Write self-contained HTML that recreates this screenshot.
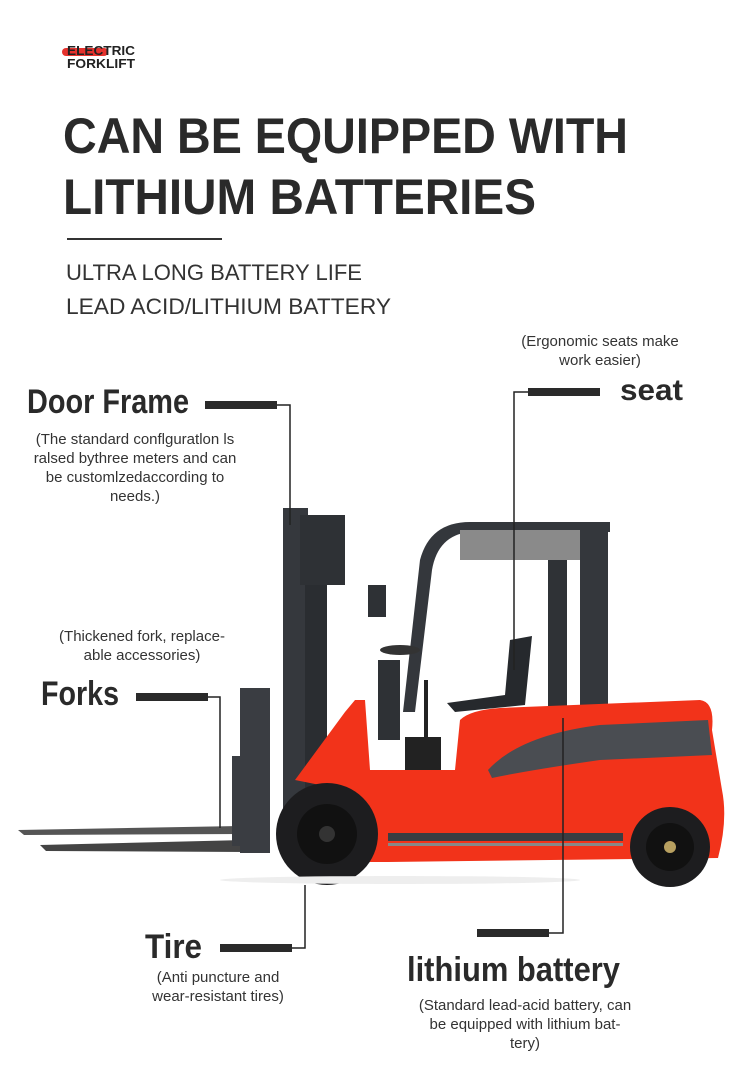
<!DOCTYPE html>
<html><head><meta charset="utf-8"><style>
html,body{margin:0;padding:0;background:#fff}
svg{display:block}
text{font-family:"Liberation Sans",sans-serif}
</style></head><body>
<svg width="750" height="1081" viewBox="0 0 750 1081" xmlns="http://www.w3.org/2000/svg">
<rect width="750" height="1081" fill="#fff"/>
<!-- logo -->
<rect x="62" y="48" width="46" height="8" rx="4" fill="#e5322d"/>
<text x="67" y="55" font-size="13" font-weight="bold" fill="#222" textLength="68" lengthAdjust="spacingAndGlyphs">ELECTRIC</text>
<text x="67" y="68" font-size="13" font-weight="bold" fill="#222" textLength="68" lengthAdjust="spacingAndGlyphs">FORKLIFT</text>
<!-- title -->
<text x="63" y="153" font-size="50" font-weight="bold" fill="#2a2a2a" textLength="565" lengthAdjust="spacingAndGlyphs">CAN BE EQUIPPED WITH</text>
<text x="63" y="214" font-size="50" font-weight="bold" fill="#2a2a2a" textLength="473" lengthAdjust="spacingAndGlyphs">LITHIUM BATTERIES</text>
<rect x="67" y="238" width="155" height="2" fill="#333"/>
<text x="66" y="280" font-size="22" fill="#333" textLength="296" lengthAdjust="spacingAndGlyphs">ULTRA LONG BATTERY LIFE</text>
<text x="66" y="314" font-size="22" fill="#333" textLength="325" lengthAdjust="spacingAndGlyphs">LEAD ACID/LITHIUM BATTERY</text>

<!-- forklift -->
<g>
<!-- forks -->
<polygon points="18,830 240,826 245,834 24,835" fill="#555"/>
<polygon points="40,845 245,840 248,852 46,851" fill="#444"/>
<rect x="240" y="688" width="30" height="165" fill="#3a3d42"/>
<rect x="232" y="756" width="14" height="90" fill="#3a3d42"/>
<!-- mast -->
<rect x="283" y="508" width="25" height="352" fill="#35383d"/>
<rect x="300" y="515" width="45" height="70" fill="#2e3135"/>
<rect x="305" y="585" width="22" height="270" fill="#2a2d31"/>
<!-- overhead guard -->
<path d="M403,712 L420,560 Q430,522 470,522 L610,522 L610,532 L470,532 Q438,535 432,570 L415,712Z" fill="#34373c"/>
<rect x="460" y="530" width="120" height="30" fill="#8a8a8a"/>
<rect x="548" y="560" width="19" height="150" fill="#2f3236"/>
<rect x="580" y="522" width="28" height="185" fill="#34373c"/>
<!-- steering / seat -->
<rect x="368" y="585" width="18" height="32" fill="#2e3135"/>
<ellipse cx="400" cy="650" rx="20" ry="5" fill="#333"/>
<rect x="378" y="660" width="22" height="80" fill="#2e3135"/>
<path d="M447,703 L505,695 L510,640 L532,636 L525,705 L455,712Z" fill="#26292d"/>
<rect x="405" y="737" width="36" height="35" fill="#222"/>
<rect x="424" y="680" width="4" height="60" fill="#222"/>
<!-- red body -->
<path d="M345,712 L355,700 L365,700 L370,770 L455,770 L460,720 Q470,710 500,708 L700,700 Q715,702 712,730 L722,790 Q728,820 718,858 L388,862 L355,862 Q350,800 320,785 L295,780 Z" fill="#f2331a"/>
<path d="M488,770 Q520,735 600,725 L708,720 L712,755 L600,760 Q530,770 492,778Z" fill="#4a4d52"/>
<rect x="388" y="833" width="235" height="8" fill="#3a3d42"/>
<rect x="388" y="843" width="235" height="3" fill="#888"/>
<!-- wheels -->
<circle cx="327" cy="834" r="51" fill="#1d1d1f"/>
<circle cx="327" cy="834" r="30" fill="#111"/>
<circle cx="327" cy="834" r="8" fill="#333"/>
<circle cx="670" cy="847" r="40" fill="#1d1d1f"/>
<circle cx="670" cy="847" r="24" fill="#111"/>
<circle cx="670" cy="847" r="6" fill="#b8a060"/>
<ellipse cx="400" cy="880" rx="180" ry="4" fill="#eee"/>
</g>

<!-- Door Frame -->
<text x="27" y="413" font-size="34" font-weight="bold" fill="#2a2a2a" textLength="162" lengthAdjust="spacingAndGlyphs">Door Frame</text>
<rect x="205" y="401" width="72" height="8" fill="#2a2a2a"/>
<polyline points="277,405 290,405 290,525" fill="none" stroke="#222" stroke-width="1.5"/>
<g font-size="15" fill="#333" text-anchor="middle">
<text x="135" y="444">(The standard conflguratlon ls</text>
<text x="135" y="463">ralsed bythree meters and can</text>
<text x="135" y="482">be customlzedaccording to</text>
<text x="135" y="501">needs.)</text>
</g>
<!-- seat -->
<g font-size="15" fill="#333" text-anchor="middle">
<text x="600" y="346">(Ergonomic seats make</text>
<text x="600" y="365">work easier)</text>
</g>
<text x="620" y="400" font-size="30" font-weight="bold" fill="#2a2a2a" textLength="63" lengthAdjust="spacingAndGlyphs">seat</text>
<rect x="528" y="388" width="72" height="8" fill="#2a2a2a"/>
<polyline points="528,392 514,392 514,670" fill="none" stroke="#222" stroke-width="1.5"/>
<!-- Forks -->
<g font-size="15" fill="#333" text-anchor="middle">
<text x="142" y="641">(Thickened fork, replace-</text>
<text x="142" y="660">able accessories)</text>
</g>
<text x="41" y="705" font-size="34" font-weight="bold" fill="#2a2a2a" textLength="78" lengthAdjust="spacingAndGlyphs">Forks</text>
<rect x="136" y="693" width="72" height="8" fill="#2a2a2a"/>
<polyline points="208,697 220,697 220,828" fill="none" stroke="#222" stroke-width="1.5"/>
<!-- Tire -->
<text x="145" y="958" font-size="34" font-weight="bold" fill="#2a2a2a" textLength="57" lengthAdjust="spacingAndGlyphs">Tire</text>
<rect x="220" y="944" width="72" height="8" fill="#2a2a2a"/>
<polyline points="292,948 305,948 305,885" fill="none" stroke="#222" stroke-width="1.5"/>
<g font-size="15" fill="#333" text-anchor="middle">
<text x="218" y="982">(Anti puncture and</text>
<text x="218" y="1001">wear-resistant tires)</text>
</g>
<!-- lithium battery -->
<rect x="477" y="929" width="72" height="8" fill="#2a2a2a"/>
<polyline points="549,933 563,933 563,718" fill="none" stroke="#222" stroke-width="1.5"/>
<text x="407" y="981" font-size="34" font-weight="bold" fill="#2a2a2a" textLength="213" lengthAdjust="spacingAndGlyphs">lithium battery</text>
<g font-size="15" fill="#333" text-anchor="middle">
<text x="525" y="1010">(Standard lead-acid battery, can</text>
<text x="525" y="1029">be equipped with lithium bat-</text>
<text x="525" y="1048">tery)</text>
</g>
</svg>
</body></html>
